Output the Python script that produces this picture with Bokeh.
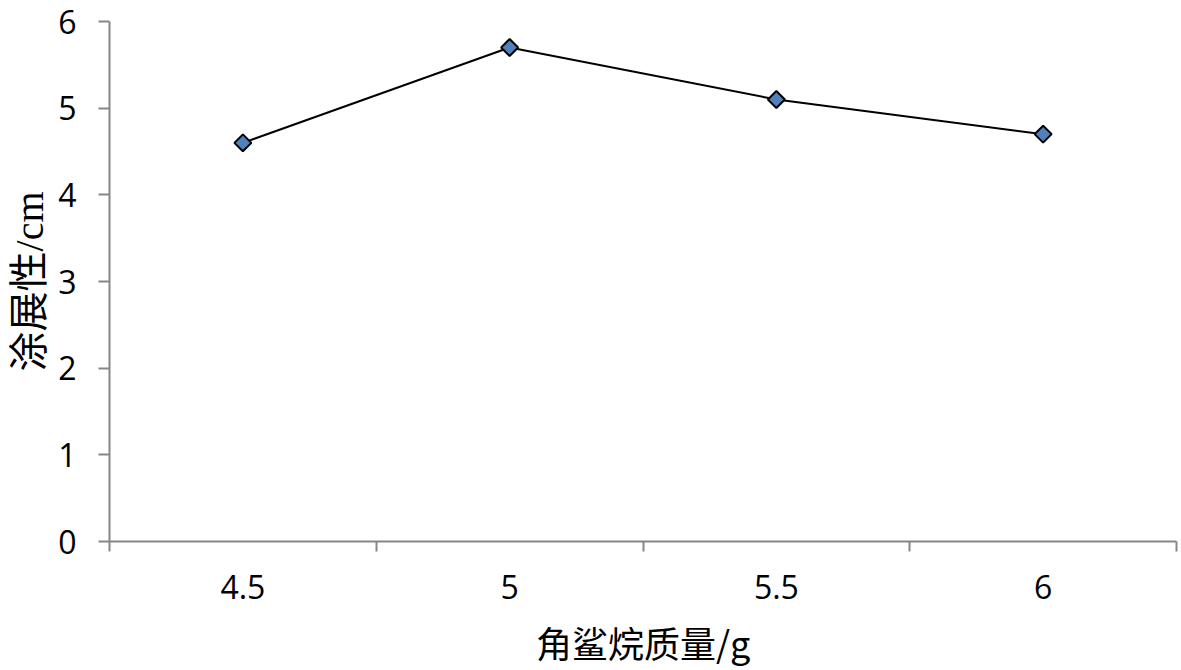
import math
from bokeh.plotting import figure
from bokeh.models import Range1d, LinearAxis, FixedTicker
from bokeh.embed import file_html
from bokeh.resources import INLINE

# data
categories = ["4.5", "5", "5.5", "6"]
spread = [4.6, 5.7, 5.1, 4.7]
y_ticks = [0, 1, 2, 3, 4, 5, 6]

AXIS_COLOR = "#868686"
LATIN_FONT = "Open Sans"
CJK_FONT = "Noto Sans CJK SC"

# category slots: each category occupies a unit bin, centred in it
n = len(categories)
centers = [i + 0.5 for i in range(n)]
bounds = list(range(n + 1))

p = figure(
    width=1181, height=670,
    x_range=Range1d(0, n),
    y_range=Range1d(0, 6),
    x_axis_location=None, y_axis_location=None,
    output_backend="svg", toolbar_location=None,
    min_border_left=109, min_border_right=5,
    min_border_top=21, min_border_bottom=129,
)
p.outline_line_color = None
p.xgrid.visible = False
p.ygrid.visible = False
p.background_fill_color = "white"

# y axis
yax = LinearAxis(ticker=FixedTicker(ticks=y_ticks))
yax.axis_line_color = AXIS_COLOR
yax.axis_line_width = 2
yax.major_tick_line_color = AXIS_COLOR
yax.major_tick_line_width = 2
yax.major_tick_out = 11
yax.major_tick_in = 0
yax.minor_tick_line_color = None
yax.major_label_text_font = LATIN_FONT
yax.major_label_text_font_size = "32px"
yax.major_label_text_color = "black"
yax.major_label_standoff = 22
yax.axis_label = "涂展性/cm"
yax.axis_label_text_font = "'Liberation Serif', 'Noto Sans CJK SC'"
yax.axis_label_text_font_style = "normal"
yax.axis_label_text_font_size = "40px"
yax.axis_label_text_color = "black"
yax.axis_label_standoff = 3
p.add_layout(yax, "left")

# x axis: labels at bin centres, ticks at bin boundaries
xax = LinearAxis(ticker=FixedTicker(ticks=centers, minor_ticks=bounds))
xax.major_label_overrides = {c: lab for c, lab in zip(centers, categories)}
xax.axis_line_color = AXIS_COLOR
xax.axis_line_width = 2
xax.major_tick_line_color = None
xax.major_tick_out = 0
xax.major_tick_in = 0
xax.minor_tick_line_color = AXIS_COLOR
xax.minor_tick_line_width = 2
xax.minor_tick_out = 10
xax.minor_tick_in = 0
xax.major_label_text_font = LATIN_FONT
xax.major_label_text_font_size = "32px"
xax.major_label_text_color = "black"
xax.major_label_standoff = 23
xax.axis_label = "角鲨烷质量/g"
xax.axis_label_text_font = CJK_FONT
xax.axis_label_text_font_style = "normal"
xax.axis_label_text_font_size = "36px"
xax.axis_label_text_color = "black"
xax.axis_label_standoff = 14
p.add_layout(xax, "below")

p.line(centers, spread, line_color="black", line_width=2)
p.scatter(centers, spread, marker="square", angle=math.pi / 4, size=12,
          fill_color="#4F81BD", line_color="black", line_width=2)

open("out.html", "w").write(file_html(p, INLINE))
